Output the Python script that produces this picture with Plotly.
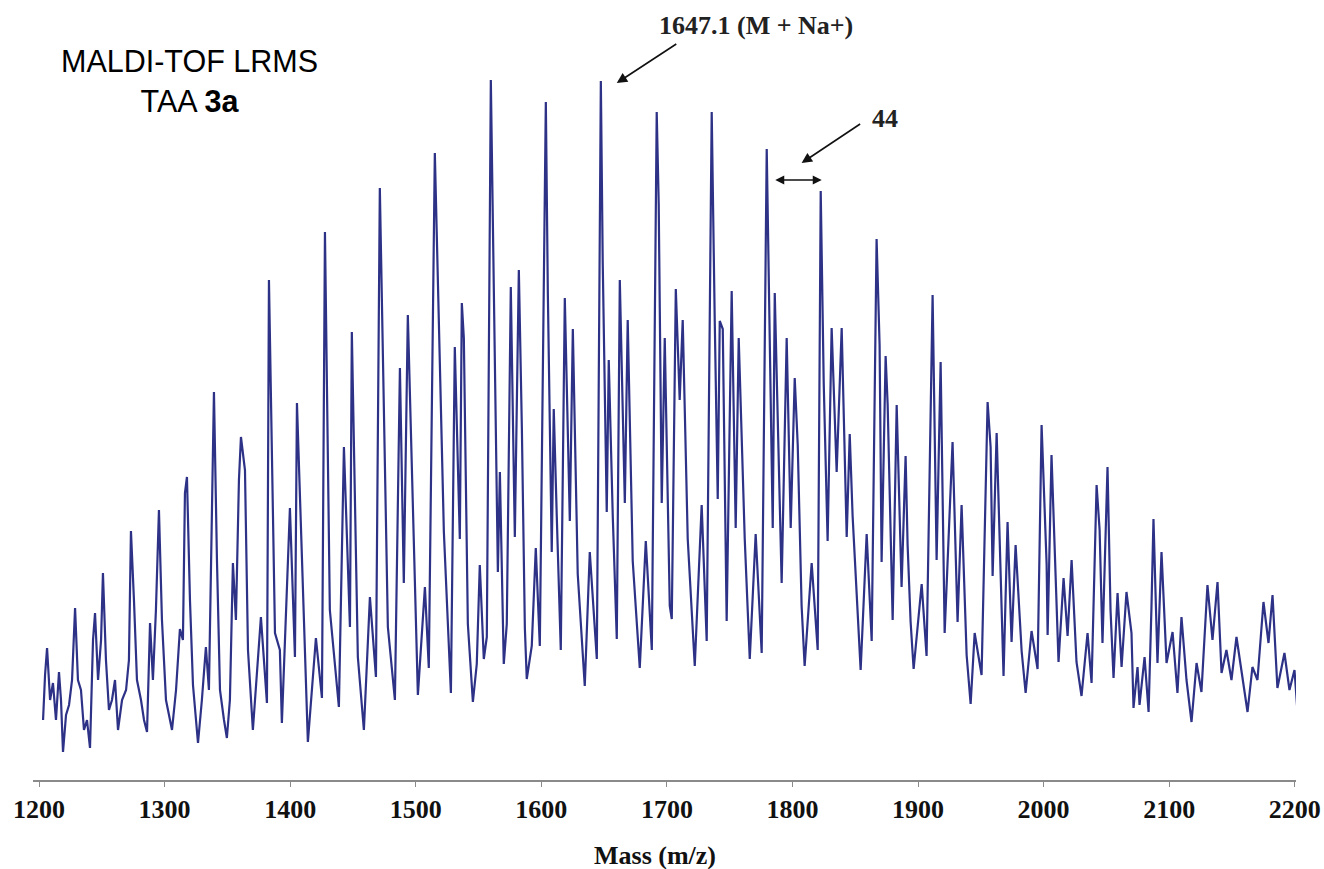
import plotly.graph_objects as go

# MALDI-TOF spectrum: mass (m/z) and relative intensity (a.u.)
mass = [
 1203.2,1204.8,1206.4,1208.8,1211.1,1213.5,1215.9,1217.5,1219.1,1221.5,1223.9,1226.3,1228.7,1231.0,1233.4,
 1235.8,1238.2,1240.6,1243.0,1244.6,1247.0,1249.4,1250.9,1253.3,1255.7,1258.1,1260.5,1262.9,1266.1,1269.3,
 1271.6,1273.2,1275.6,1278.0,1281.2,1283.6,1286.0,1288.4,1290.7,1293.1,1295.5,1297.9,1301.1,1303.5,1305.9,
 1309.1,1312.2,1314.6,1316.2,1317.8,1320.2,1322.6,1325.0,1326.6,1329.7,1332.9,1335.3,1337.7,1339.3,1341.7,
 1344.1,1347.3,1349.6,1352.0,1354.4,1356.8,1359.2,1360.8,1364.0,1366.4,1370.3,1376.7,1381.5,1383.1,1387.9,
 1391.8,1393.4,1399.8,1403.8,1405.4,1414.1,1420.5,1425.3,1427.7,1431.6,1438.8,1442.8,1447.6,1449.1,1453.9,
 1458.7,1463.5,1468.3,1471.4,1477.8,1483.4,1487.4,1490.5,1493.7,1501.7,1507.3,1510.4,1515.2,1522.4,1524.8,
 1528.0,1531.1,1535.1,1536.7,1538.3,1541.5,1545.5,1548.6,1551.0,1554.2,1556.6,1559.8,1561.4,1564.6,1565.4,
 1567.0,1568.5,1570.1,1572.5,1575.7,1578.9,1582.1,1584.5,1586.9,1588.4,1592.4,1595.6,1598.8,1603.6,1605.2,
 1608.3,1609.9,1612.3,1615.5,1618.7,1622.7,1625.1,1629.0,1634.6,1638.6,1644.2,1647.4,1648.9,1652.1,1653.7,
 1656.9,1660.1,1662.5,1666.5,1668.8,1672.8,1678.4,1683.2,1688.0,1691.9,1693.5,1695.9,1698.3,1702.3,1703.9,
 1707.1,1710.2,1712.6,1716.6,1722.2,1727.7,1731.7,1735.7,1738.1,1740.5,1742.1,1744.5,1747.6,1751.6,1754.8,
 1757.2,1762.0,1766.0,1770.7,1775.5,1779.5,1782.7,1784.3,1785.9,1791.4,1795.4,1798.6,1801.8,1804.2,1807.3,
 1809.7,1815.3,1820.1,1822.5,1824.9,1828.0,1831.2,1835.2,1839.2,1843.2,1845.6,1847.9,1854.3,1859.1,1863.1,
 1867.0,1869.4,1871.0,1874.2,1875.8,1879.8,1883.0,1886.9,1890.1,1891.7,1894.1,1896.5,1902.9,1906.8,1911.6,
 1914.8,1918.0,1921.2,1927.5,1931.5,1934.7,1938.7,1941.9,1945.1,1950.6,1955.4,1957.8,1959.4,1962.6,1968.1,
 1971.3,1974.5,1977.7,1982.5,1985.7,1990.4,1995.2,1998.4,2002.4,2003.2,2006.3,2010.3,2011.9,2015.9,2019.1,
 2022.3,2026.2,2030.2,2035.0,2038.2,2042.2,2044.6,2046.9,2050.9,2053.3,2055.7,2058.9,2062.1,2066.0,2070.0,
 2071.6,2074.8,2076.4,2080.4,2083.6,2085.9,2087.5,2090.7,2093.9,2097.9,2102.7,2106.6,2109.8,2113.8,2117.8,
 2121.8,2125.7,2130.5,2134.5,2138.5,2141.7,2145.6,2149.6,2153.6,2157.6,2162.4,2166.3,2170.3,2175.1,2179.1,
 2182.3,2186.2,2191.8,2195.8,2199.8,2202.2,
]
intensity = [
 58,103,130,78,95,58,106,78,26,63,73,98,170,98,88,
 48,58,30,138,165,98,138,205,118,68,78,98,48,78,88,
 118,247,178,98,78,58,46,155,98,168,268,158,78,63,48,
 88,149,138,285,301,178,93,58,35,78,131,88,258,386,218,
 88,58,40,78,215,158,298,341,308,128,48,161,75,498,145,
 128,55,270,121,375,36,140,80,546,168,71,331,151,446,121,
 48,181,101,590,151,78,410,195,463,83,191,110,625,246,180,
 85,431,239,475,440,154,76,114,213,119,141,698,561,306,206,
 306,217,114,154,491,241,508,351,150,99,132,230,132,676,485,
 226,369,262,128,480,257,449,204,92,226,119,697,516,266,418,
 262,139,498,275,458,217,110,237,128,666,574,275,440,172,159,
 489,378,458,239,112,273,137,666,458,279,457,449,157,487,250,
 440,239,119,244,125,629,395,250,485,195,440,250,400,333,172,
 112,215,128,587,395,237,450,306,450,241,344,262,108,244,137,
 539,433,216,422,374,158,373,191,322,233,156,109,194,122,483,
 218,416,145,336,156,273,123,74,145,103,376,331,202,345,102,
 256,136,233,127,85,147,109,353,214,143,323,178,116,200,142,
 218,116,82,145,95,293,248,135,311,168,100,185,111,186,145,
 70,111,73,121,66,171,259,115,226,115,146,85,161,98,56,
 115,86,193,138,196,105,128,98,141,105,66,111,98,176,135,
 183,90,125,88,108,66,
]

x_ticks = [1200, 1300, 1400, 1500, 1600, 1700, 1800, 1900, 2000, 2100, 2200]

line_color = "#2E3287"
serif = "Liberation Serif, Times New Roman, serif"
sans = "Liberation Sans, Arial, sans-serif"

fig = go.Figure()
fig.add_trace(go.Scatter(
    x=mass, y=intensity, mode="lines",
    line=dict(color=line_color, width=2.2),
    hoverinfo="skip", showlegend=False,
))

fig.update_layout(
    width=1324, height=869,
    margin=dict(l=33, r=28, t=58, b=89, autoexpand=False),
    paper_bgcolor="white", plot_bgcolor="white",
    showlegend=False,
    xaxis=dict(
        range=[1195.2, 2201], tickvals=x_ticks, ticktext=[f"<b>{t}</b>" for t in x_ticks],
        automargin=False,
        showgrid=False, zeroline=False, showline=True, linecolor="#8a8a8a", linewidth=2,
        ticks="outside", ticklen=5, tickwidth=1, tickcolor="#8a8a8a",
        tickfont=dict(family=serif, size=26, color="#111"),
    ),
    yaxis=dict(range=[-2, 720], visible=False, showgrid=False, zeroline=False, automargin=False),
)

# axis title
fig.add_annotation(x=1690.7, y=-0.104, xref="x", yref="paper", showarrow=False,
                   text="<b>Mass (m/z)</b>", yanchor="middle",
                   font=dict(family=serif, size=26, color="#111"))

# Title text
fig.add_annotation(x=1320.0, y=697.5, xref="x", yref="y", showarrow=False,
                   text="MALDI-TOF LRMS<br>TAA <b>3a</b>", align="center",
                   font=dict(family=sans, size=30.5, color="black"))

# Molecular ion label and arrow
fig.add_annotation(x=1770.7, y=1.0457, xref="x", yref="paper", showarrow=False, yanchor="middle",
                   text="<b>1647.1 (M + Na+)</b>", font=dict(family=serif, size=26, color="#222"))
fig.add_annotation(x=1660.1, y=695, xref="x", yref="y", ax=61, ay=-40, text="",
                   showarrow=True, arrowhead=2, arrowsize=1.3, arrowwidth=1.6, arrowcolor="#111")

# 44 label and arrow
fig.add_annotation(x=1873.5, y=660, xref="x", yref="y", showarrow=False, yanchor="middle",
                   text="<b>44</b>", font=dict(family=serif, size=26, color="#222"))
fig.add_annotation(x=1807.3, y=615, xref="x", yref="y", ax=60, ay=-40, text="",
                   showarrow=True, arrowhead=2, arrowsize=1.3, arrowwidth=1.6, arrowcolor="#111")

# double-headed arrow for the 44 spacing
fig.add_annotation(x=1823.3, y=598, xref="x", yref="y", ax=1785.1, ay=598, axref="x", ayref="y",
                   text="", showarrow=True, arrowhead=2, startarrowhead=2, arrowside="end+start",
                   arrowsize=1.2, arrowwidth=1.5, arrowcolor="#111")

# remove the default page margin so the figure sits at the window's top-left corner
fig.write_html("out.html", config={"displayModeBar": False, "staticPlot": True},
               post_script="document.body.style.margin='0';")
